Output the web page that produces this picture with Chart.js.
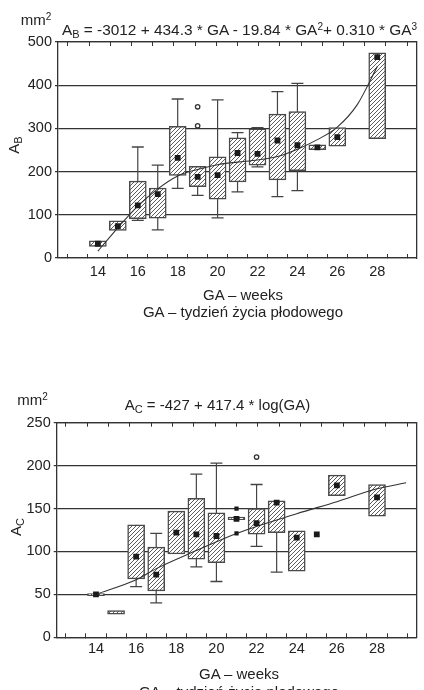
<!DOCTYPE html>
<html><head><meta charset="utf-8">
<script src="https://cdn.jsdelivr.net/npm/chart.js@4.4.1/dist/chart.umd.min.js"></script>
<style>
html,body{margin:0;padding:0;width:424px;height:690px;overflow:hidden;background:#fff;}
#wrap{position:relative;width:424px;height:690px;}
canvas{position:absolute;left:0;}
.t{position:absolute;font-family:'Liberation Sans',Arial,sans-serif;color:#222;white-space:nowrap;line-height:1;}
.s{position:relative;}
</style></head><body><div id="wrap">
<canvas id="c1" width="424" height="330" style="top:0"></canvas>
<canvas id="c2" width="424" height="360" style="top:330px"></canvas>
</div>
<script>
// ---------- shared ----------
const weekTicks = [13,14,15,16,17,18,19,20,21,22,23,24,25,26,27,28,29];
const weekLabels = [14,16,18,20,22,24,26,28];
const xTitle1 = 'GA – weeks';
const xTitle2 = 'GA – tydzień życia płodowego';

// ---------- chart 1 : A_B ----------
const weeksB   = [14,15,16,17,18,19,20,21,22,23,24,25,26,28];
const q1B      = [27,64,91,92,191,165,136,176,215,181,202,251,259,276];
const q3B      = [40,86,178,162,305,212,234,278,299,333,339,262,302,475];
const wLoB     = [null,null,87,65,161,145,93,153,211,142,156,null,null,null];
const wHiB     = [null,null,257,215,368,null,366,290,302,385,404,null,null,null];
const meanB    = [33,74,122,148,232,188,192,243,241,272,261,256,280,465];
const outXB    = [19,19];
const outYB    = [350,306];
const fitXB    = [14,15,16,17,18,19,20,21,22,23,24,25,26,27,28];
const fitYB    = [16,70,120,160,190,205,216,222,227,235,252,274,303,355,443];
const yTicksB  = [0,100,200,300,400,500];

// ---------- chart 2 : A_C ----------
const weeksC   = [14,15,16,17,18,19,20,21,22,23,24,25,26,28];
const q1C      = [48.5,27,68,54,97,91,87,137,120,122,77,null,165,141];
const q3C      = [51,31,131,105,147,162,145,140,150,159,124,null,189,178];
const wLoC     = [null,null,59,40,null,82,65,null,106,76,null,null,null,null];
const wHiC     = [null,null,null,121,null,190,203,null,178,null,null,null,null,null];
const meanC    = [50,null,94,73,122,120,118,138,133,157,116,120,177,163];
const extraXC  = [21,21];
const extraYC  = [150,121];
const outXC    = [22];
const outYC    = [210];
const fitXC    = [14,16,17,19,21,24,26,28,29.45];
const fitYC    = [50,67,80,101,121,144,158,173,180];
const yTicksC  = [0,50,100,150,200,250];

const FONT = "'Liberation Sans', Arial, sans-serif";
const INK = '#222';
const LINE = '#333';
Chart.defaults.font.family = FONT;
Chart.defaults.font.size = 14;
Chart.defaults.color = INK;

function hatch(){
  const c = document.createElement('canvas');
  c.width = 4; c.height = 4;
  const g = c.getContext('2d');
  g.fillStyle = '#fff'; g.fillRect(0,0,4,4);
  g.strokeStyle = '#4a4a4a'; g.lineWidth = 0.9;
  g.beginPath();
  g.moveTo(0,4); g.lineTo(4,0);
  g.moveTo(-1,1); g.lineTo(1,-1);
  g.moveTo(3,5); g.lineTo(5,3);
  g.stroke();
  return g.createPattern(c,'repeat');
}

function buildChart(id, cfg){
  const boxes = [], stems = [], caps = [], means = [];
  cfg.weeks.forEach((w,i)=>{
    if (cfg.q1[i] !== null) boxes.push({x:w, y:[cfg.q1[i], cfg.q3[i]]});
    if (cfg.wLo[i] !== null || cfg.wHi[i] !== null){
      const lo = cfg.wLo[i] !== null ? cfg.wLo[i] : cfg.q1[i];
      const hi = cfg.wHi[i] !== null ? cfg.wHi[i] : cfg.q3[i];
      stems.push({x:w,y:lo},{x:w,y:hi},{x:w,y:null});
      if (cfg.wLo[i] !== null) caps.push({x:w,y:cfg.wLo[i]});
      if (cfg.wHi[i] !== null) caps.push({x:w,y:cfg.wHi[i]});
    }
    if (cfg.mean[i] !== null) means.push({x:w,y:cfg.mean[i]});
  });
  const outs = cfg.outX.map((x,i)=>({x, y:cfg.outY[i]}));
  const extras = (cfg.extraX||[]).map((x,i)=>({x, y:cfg.extraY[i]}));
  const fit = cfg.fitX.map((x,i)=>({x, y:cfg.fitY[i]}));
  const setX = s => { s.ticks = weekTicks.map(v=>({value:v})); };
  const setY = s => { s.ticks = cfg.yTicks.map(v=>({value:v})); };
  return new Chart(document.getElementById(id), {
    type: 'scatter',
    data: { datasets: [
      { type:'line', data: stems, borderColor:'#444', borderWidth:1.2, pointRadius:0, spanGaps:false, order:10 },
      { type:'scatter', data: caps, pointStyle:'line', radius:6, borderColor:'#444', borderWidth:1.3, order:9 },
      { type:'bar', data: boxes, barThickness:17, backgroundColor: hatch(), borderColor:'#4a4a4a', borderWidth:1.5, borderSkipped:false, order:8 },
      { type:'line', data: fit, borderColor:'#333', borderWidth:1.1, pointRadius:0, cubicInterpolationMode:'monotone', order:5 },
      { type:'scatter', data: means, pointStyle:'rect', radius:4.1, backgroundColor:'#1a1a1a', borderWidth:0, order:2 },
      { type:'scatter', data: extras, pointStyle:'rect', radius:3, backgroundColor:'#1a1a1a', borderWidth:0, order:2 },
      { type:'scatter', data: outs, pointStyle:'circle', radius:2.2, backgroundColor:'#fff', borderColor:'#333', borderWidth:1.3, order:2 }
    ]},
    options: {
      responsive:false, animation:false, events:[],
      layout:{ padding:{ top:cfg.padTop, right:cfg.padRight, bottom:0, left:0 } },
      plugins:{ legend:{display:false}, tooltip:{enabled:false}, title:{display:false} },
      scales:{
        x:{ type:'linear', position:'bottom', min:cfg.xMin, max:cfg.xMax, afterBuildTicks:setX,
            ticks:{ autoSkip:false, maxRotation:0, padding:cfg.xPad, color:INK, font:{size:14.5},
                    callback:(v)=> weekLabels.includes(v) ? String(v) : '' },
            grid:{ drawOnChartArea:false, drawTicks:true, tickLength:-4, tickColor:LINE, tickWidth:1 },
            border:{ display:true, color:LINE, width:1.3 },
            afterFit:(s)=>{ s.height = cfg.xH; } },
        x2:{ type:'linear', position:'top', min:cfg.xMin, max:cfg.xMax, afterBuildTicks:setX,
            ticks:{ display:false },
            grid:{ drawOnChartArea:false, drawTicks:true, tickLength:-4, tickColor:LINE, tickWidth:1 },
            border:{ display:true, color:LINE, width:1.3 },
            afterFit:(s)=>{ s.height = 0; } },
        y:{ type:'linear', position:'left', min:cfg.yMin, max:cfg.yMax, afterBuildTicks:setY,
            ticks:{ padding:3, color:INK, font:{size:14.5}, callback:(v)=>String(v) },
            grid:{ color:LINE, lineWidth:1.2, drawTicks:true, tickLength:3, tickColor:LINE },
            border:{ display:true, color:LINE, width:1.3 },
            afterFit:(s)=>{ s.width = cfg.yW; } },
        y2:{ type:'linear', position:'right', min:cfg.yMin, max:cfg.yMax,
            ticks:{ display:false },
            grid:{ drawOnChartArea:false, drawTicks:false },
            border:{ display:true, color:LINE, width:1.3 },
            afterFit:(s)=>{ s.width = 0; } }
      }
    }
  });
}

buildChart('c1', { weeks:weeksB, q1:q1B, q3:q3B, wLo:wLoB, wHi:wHiB, mean:meanB,
  outX:outXB, outY:outYB, fitX:fitXB, fitY:fitYB, yTicks:yTicksB,
  xMin:12.53, xMax:29.45, yMin:0, yMax:500,
  padTop:42, padRight:5, yW:58, xH:72, xPad:9 });

buildChart('c2', { weeks:weeksC, q1:q1C, q3:q3C, wLo:wLoC, wHi:wHiC, mean:meanC,
  outX:outXC, outY:outYC, extraX:extraXC, extraY:extraYC, fitX:fitXC, fitY:fitYC, yTicks:yTicksC,
  xMin:12.57, xMax:29.45, yMin:0, yMax:250,
  padTop:92.7, padRight:5.3, yW:56.7, xH:52.7, xPad:7.3 });

// ---------- text labels (HTML, real text) ----------
const wrap = document.getElementById('wrap');
function sub(t){ return '<span class="s" style="font-size:11px;top:3px">'+t+'</span>'; }
function sup(t){ return '<span class="s" style="font-size:10px;top:-5px">'+t+'</span>'; }
function label(html, x, baseline, size, align){
  const d = document.createElement('div');
  d.className = 't';
  d.style.fontSize = size+'px';
  d.style.top = (baseline - 0.8465*size)+'px';
  d.style.left = x+'px';
  if (align === 'center') d.style.transform = 'translateX(-50%)';
  d.innerHTML = html;
  wrap.appendChild(d);
  return d;
}
function vlabel(html, cx, cy, size){
  const d = document.createElement('div');
  d.className = 't';
  d.style.fontSize = size+'px';
  d.style.left = cx+'px';
  d.style.top = cy+'px';
  d.style.transform = 'translate(-50%,-50%) rotate(-90deg)';
  d.innerHTML = html;
  wrap.appendChild(d);
}

// chart 1 texts
label('mm'+sup('2'), 20.7, 25, 15, 'left');
label('A'+sub('B')+' = -3012 + 434.3 * GA - 19.84 * GA'+sup('2')+'+ 0.310 * GA'+sup('3'), 239.5, 35.5, 15.4, 'center');
vlabel('A'+sub('B'), 13, 145, 15);
label(xTitle1, 243, 300, 15, 'center');
label(xTitle2, 243, 316.7, 15, 'center');

// chart 2 texts
label('mm'+sup('2'), 17.3, 405, 15, 'left');
label('A'+sub('C')+' = -427 + 417.4 * log(GA)', 217.5, 410, 15, 'center');
vlabel('A'+sub('C'), 14.5, 527, 15);
label(xTitle1, 239, 678.3, 15, 'center');
label(xTitle2, 239, 697, 15, 'center');
</script>
</body></html>
